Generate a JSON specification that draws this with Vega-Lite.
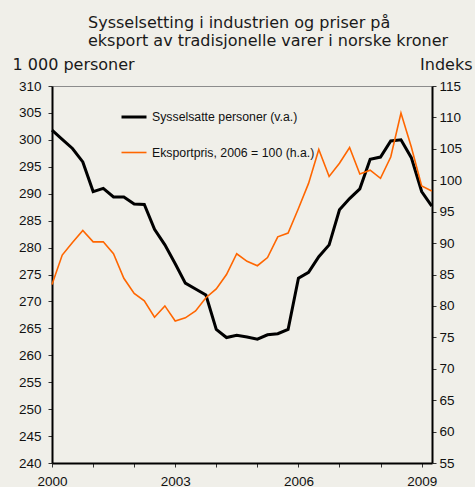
{
  "$schema": "https://vega.github.io/schema/vega-lite/v6.json",
  "width": 380,
  "height": 377,
  "autosize": {"type": "none"},
  "padding": {"left": 52, "top": 86, "right": 43, "bottom": 24},
  "background": "#f0efe9",
  "title": {
    "text": ["Sysselsetting i industrien og priser på", "eksport av tradisjonelle varer i norske kroner"],
    "anchor": "start",
    "frame": "group",
    "dx": 36,
    "offset": 7,
    "font": "DejaVu Sans",
    "fontSize": 16,
    "fontWeight": "normal",
    "color": "#1a1a1a",
    "lineHeight": 18
  },
  "config": {
    "view": {"stroke": "#8c8c8c", "strokeWidth": 1, "fill": "#f0efe9"},
    "axis": {
      "grid": false,
      "labelFont": "Liberation Sans",
      "labelFontSize": 13.5,
      "labelColor": "#111",
      "domainColor": "#000",
      "domainWidth": 2,
      "tickColor": "#333",
      "tickSize": 4,
      "titleFont": "DejaVu Sans",
      "titleFontSize": 16,
      "titleFontWeight": "normal",
      "titleColor": "#1a1a1a"
    }
  },
  "data": {
    "values": [
      {"d": "2000-01-01", "s": "Sysselsatte personer (v.a.)", "v": 301.8},
      {"d": "2000-04-01", "s": "Sysselsatte personer (v.a.)", "v": 300.1},
      {"d": "2000-07-01", "s": "Sysselsatte personer (v.a.)", "v": 298.4},
      {"d": "2000-10-01", "s": "Sysselsatte personer (v.a.)", "v": 295.9},
      {"d": "2001-01-01", "s": "Sysselsatte personer (v.a.)", "v": 290.4},
      {"d": "2001-04-01", "s": "Sysselsatte personer (v.a.)", "v": 291.0},
      {"d": "2001-07-01", "s": "Sysselsatte personer (v.a.)", "v": 289.4},
      {"d": "2001-10-01", "s": "Sysselsatte personer (v.a.)", "v": 289.4},
      {"d": "2002-01-01", "s": "Sysselsatte personer (v.a.)", "v": 288.1},
      {"d": "2002-04-01", "s": "Sysselsatte personer (v.a.)", "v": 288.0},
      {"d": "2002-07-01", "s": "Sysselsatte personer (v.a.)", "v": 283.4},
      {"d": "2002-10-01", "s": "Sysselsatte personer (v.a.)", "v": 280.5},
      {"d": "2003-01-01", "s": "Sysselsatte personer (v.a.)", "v": 277.0},
      {"d": "2003-04-01", "s": "Sysselsatte personer (v.a.)", "v": 273.4},
      {"d": "2003-07-01", "s": "Sysselsatte personer (v.a.)", "v": 272.3},
      {"d": "2003-10-01", "s": "Sysselsatte personer (v.a.)", "v": 271.2},
      {"d": "2004-01-01", "s": "Sysselsatte personer (v.a.)", "v": 264.8},
      {"d": "2004-04-01", "s": "Sysselsatte personer (v.a.)", "v": 263.3},
      {"d": "2004-07-01", "s": "Sysselsatte personer (v.a.)", "v": 263.7},
      {"d": "2004-10-01", "s": "Sysselsatte personer (v.a.)", "v": 263.4},
      {"d": "2005-01-01", "s": "Sysselsatte personer (v.a.)", "v": 263.0},
      {"d": "2005-04-01", "s": "Sysselsatte personer (v.a.)", "v": 263.8},
      {"d": "2005-07-01", "s": "Sysselsatte personer (v.a.)", "v": 264.0},
      {"d": "2005-10-01", "s": "Sysselsatte personer (v.a.)", "v": 264.8},
      {"d": "2006-01-01", "s": "Sysselsatte personer (v.a.)", "v": 274.3},
      {"d": "2006-04-01", "s": "Sysselsatte personer (v.a.)", "v": 275.4},
      {"d": "2006-07-01", "s": "Sysselsatte personer (v.a.)", "v": 278.3},
      {"d": "2006-10-01", "s": "Sysselsatte personer (v.a.)", "v": 280.5},
      {"d": "2007-01-01", "s": "Sysselsatte personer (v.a.)", "v": 287.0},
      {"d": "2007-04-01", "s": "Sysselsatte personer (v.a.)", "v": 289.1},
      {"d": "2007-07-01", "s": "Sysselsatte personer (v.a.)", "v": 290.9},
      {"d": "2007-10-01", "s": "Sysselsatte personer (v.a.)", "v": 296.4},
      {"d": "2008-01-01", "s": "Sysselsatte personer (v.a.)", "v": 296.8},
      {"d": "2008-04-01", "s": "Sysselsatte personer (v.a.)", "v": 299.8},
      {"d": "2008-07-01", "s": "Sysselsatte personer (v.a.)", "v": 300.0},
      {"d": "2008-10-01", "s": "Sysselsatte personer (v.a.)", "v": 296.7},
      {"d": "2009-01-01", "s": "Sysselsatte personer (v.a.)", "v": 290.4},
      {"d": "2009-04-01", "s": "Sysselsatte personer (v.a.)", "v": 287.7},
      {"d": "2000-01-01", "s": "Eksportpris, 2006 = 100 (h.a.)", "v": 83.4},
      {"d": "2000-04-01", "s": "Eksportpris, 2006 = 100 (h.a.)", "v": 88.1},
      {"d": "2000-07-01", "s": "Eksportpris, 2006 = 100 (h.a.)", "v": 90.1},
      {"d": "2000-10-01", "s": "Eksportpris, 2006 = 100 (h.a.)", "v": 92.0},
      {"d": "2001-01-01", "s": "Eksportpris, 2006 = 100 (h.a.)", "v": 90.2},
      {"d": "2001-04-01", "s": "Eksportpris, 2006 = 100 (h.a.)", "v": 90.2},
      {"d": "2001-07-01", "s": "Eksportpris, 2006 = 100 (h.a.)", "v": 88.3},
      {"d": "2001-10-01", "s": "Eksportpris, 2006 = 100 (h.a.)", "v": 84.4},
      {"d": "2002-01-01", "s": "Eksportpris, 2006 = 100 (h.a.)", "v": 82.0},
      {"d": "2002-04-01", "s": "Eksportpris, 2006 = 100 (h.a.)", "v": 80.8},
      {"d": "2002-07-01", "s": "Eksportpris, 2006 = 100 (h.a.)", "v": 78.2},
      {"d": "2002-10-01", "s": "Eksportpris, 2006 = 100 (h.a.)", "v": 80.0},
      {"d": "2003-01-01", "s": "Eksportpris, 2006 = 100 (h.a.)", "v": 77.6},
      {"d": "2003-04-01", "s": "Eksportpris, 2006 = 100 (h.a.)", "v": 78.1},
      {"d": "2003-07-01", "s": "Eksportpris, 2006 = 100 (h.a.)", "v": 79.2},
      {"d": "2003-10-01", "s": "Eksportpris, 2006 = 100 (h.a.)", "v": 81.3},
      {"d": "2004-01-01", "s": "Eksportpris, 2006 = 100 (h.a.)", "v": 82.7},
      {"d": "2004-04-01", "s": "Eksportpris, 2006 = 100 (h.a.)", "v": 85.0},
      {"d": "2004-07-01", "s": "Eksportpris, 2006 = 100 (h.a.)", "v": 88.3},
      {"d": "2004-10-01", "s": "Eksportpris, 2006 = 100 (h.a.)", "v": 87.1},
      {"d": "2005-01-01", "s": "Eksportpris, 2006 = 100 (h.a.)", "v": 86.4},
      {"d": "2005-04-01", "s": "Eksportpris, 2006 = 100 (h.a.)", "v": 87.7},
      {"d": "2005-07-01", "s": "Eksportpris, 2006 = 100 (h.a.)", "v": 91.0},
      {"d": "2005-10-01", "s": "Eksportpris, 2006 = 100 (h.a.)", "v": 91.6},
      {"d": "2006-01-01", "s": "Eksportpris, 2006 = 100 (h.a.)", "v": 95.5},
      {"d": "2006-04-01", "s": "Eksportpris, 2006 = 100 (h.a.)", "v": 99.5},
      {"d": "2006-07-01", "s": "Eksportpris, 2006 = 100 (h.a.)", "v": 104.9},
      {"d": "2006-10-01", "s": "Eksportpris, 2006 = 100 (h.a.)", "v": 100.6},
      {"d": "2007-01-01", "s": "Eksportpris, 2006 = 100 (h.a.)", "v": 102.7},
      {"d": "2007-04-01", "s": "Eksportpris, 2006 = 100 (h.a.)", "v": 105.2},
      {"d": "2007-07-01", "s": "Eksportpris, 2006 = 100 (h.a.)", "v": 101.0},
      {"d": "2007-10-01", "s": "Eksportpris, 2006 = 100 (h.a.)", "v": 101.6},
      {"d": "2008-01-01", "s": "Eksportpris, 2006 = 100 (h.a.)", "v": 100.3},
      {"d": "2008-04-01", "s": "Eksportpris, 2006 = 100 (h.a.)", "v": 103.7},
      {"d": "2008-07-01", "s": "Eksportpris, 2006 = 100 (h.a.)", "v": 110.7},
      {"d": "2008-10-01", "s": "Eksportpris, 2006 = 100 (h.a.)", "v": 105.3},
      {"d": "2009-01-01", "s": "Eksportpris, 2006 = 100 (h.a.)", "v": 99.1},
      {"d": "2009-04-01", "s": "Eksportpris, 2006 = 100 (h.a.)", "v": 98.3}
    ]
  },
  "encoding": {
    "x": {
      "field": "d",
      "type": "temporal",
      "scale": {
        "type": "utc",
        "domain": [{"year": 2000, "month": 1, "date": 1, "utc": true}, {"year": 2009, "month": 4, "date": 3, "utc": true}]
      },
      "axis": {
        "title": null,
        "values": [
          {"year": 2000, "month": 1, "date": 1, "utc": true},
          {"year": 2001, "month": 1, "date": 1, "utc": true},
          {"year": 2002, "month": 1, "date": 1, "utc": true},
          {"year": 2003, "month": 1, "date": 1, "utc": true},
          {"year": 2004, "month": 1, "date": 1, "utc": true},
          {"year": 2005, "month": 1, "date": 1, "utc": true},
          {"year": 2006, "month": 1, "date": 1, "utc": true},
          {"year": 2007, "month": 1, "date": 1, "utc": true},
          {"year": 2008, "month": 1, "date": 1, "utc": true},
          {"year": 2009, "month": 1, "date": 1, "utc": true}
        ],
        "labelExpr": "(utcyear(datum.value) - 2000) % 3 == 0 ? utcFormat(datum.value, '%Y') : ''",
        "labelPadding": 7,
        "labelFlush": false,
        "labelOverlap": false
      }
    },
    "color": {
      "field": "s",
      "type": "nominal",
      "scale": {
        "domain": ["Sysselsatte personer (v.a.)", "Eksportpris, 2006 = 100 (h.a.)"],
        "range": ["#000000", "#ff6600"]
      },
      "legend": {
        "title": null,
        "orient": "none",
        "legendX": 68,
        "legendY": 17,
        "padding": 0,
        "symbolType": "stroke",
        "symbolSize": 625,
        "symbolStrokeWidth": 2.5,
        "rowPadding": 15,
        "labelFont": "Liberation Sans",
        "labelFontSize": 12.3,
        "labelColor": "#111",
        "labelOffset": 4,
        "labelLimit": 300
      }
    },
    "strokeWidth": {
      "field": "s",
      "type": "nominal",
      "scale": {
        "domain": ["Sysselsatte personer (v.a.)", "Eksportpris, 2006 = 100 (h.a.)"],
        "range": [3, 1.6]
      },
      "legend": null
    }
  },
  "layer": [
    {
      "transform": [{"filter": "datum.s == 'Sysselsatte personer (v.a.)'"}],
      "mark": {"type": "line"},
      "encoding": {
        "y": {
          "field": "v",
          "type": "quantitative",
          "scale": {"domain": [240, 310], "nice": false, "zero": false},
          "axis": {
            "orient": "left",
            "values": [240, 245, 250, 255, 260, 265, 270, 275, 280, 285, 290, 295, 300, 305, 310],
            "labelPadding": 7,
            "title": "1 000 personer",
            "titleAngle": 0,
            "titleAlign": "left",
            "titleBaseline": "alphabetic",
            "titleX": -40,
            "titleY": -17
          }
        }
      }
    },
    {
      "transform": [{"filter": "datum.s == 'Eksportpris, 2006 = 100 (h.a.)'"}],
      "mark": {"type": "line"},
      "encoding": {
        "y": {
          "field": "v",
          "type": "quantitative",
          "scale": {"domain": [55, 115], "nice": false, "zero": false},
          "axis": {
            "orient": "right",
            "values": [55, 60, 65, 70, 75, 80, 85, 90, 95, 100, 105, 110, 115],
            "labelPadding": 3,
            "title": "Indeks",
            "titleAngle": 0,
            "titleAlign": "right",
            "titleBaseline": "alphabetic",
            "titleX": 40,
            "titleY": -17
          }
        }
      }
    }
  ],
  "resolve": {"scale": {"y": "independent"}}
}
